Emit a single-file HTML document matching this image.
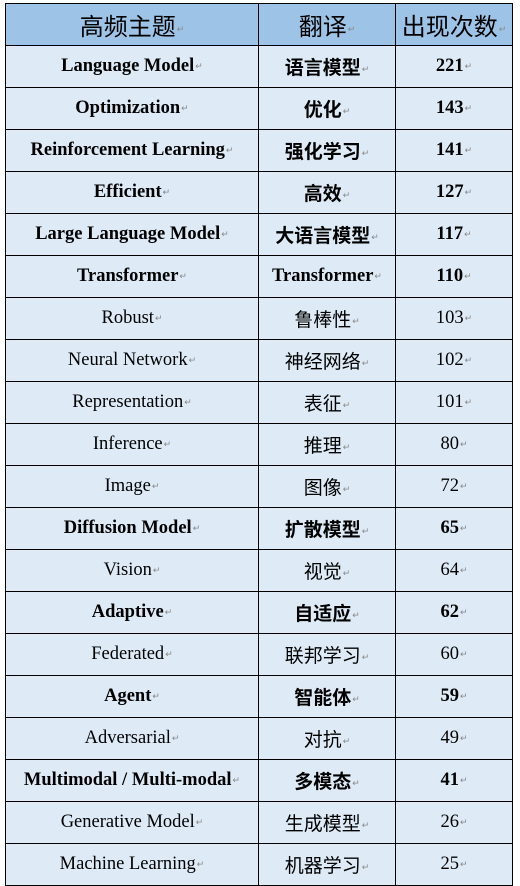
<!DOCTYPE html>
<html><head><meta charset="utf-8"><style>
body{margin:0;width:520px;height:875px;overflow:hidden;background:#fff;font-family:"Liberation Serif","Noto Serif CJK SC",serif;}
table{position:absolute;left:5px;top:3px;border-collapse:collapse;table-layout:fixed;}
td{border:1px solid #000;height:41px;padding:0;text-align:center;font-size:18.5px;color:#000;background:#deebf7;white-space:nowrap;}
td.c{font-family:"Noto Sans CJK SC","Liberation Serif",sans-serif;font-size:19px;}
tr.h td{background:#9dc3e6;font-size:24px;height:41px;font-family:"Noto Sans CJK SC",sans-serif;}
tr.b td{font-weight:bold;}
.r{font-size:9px;color:#888;font-weight:normal;margin-left:1px;vertical-align:middle;}
</style></head><body>
<table>
<colgroup><col style="width:253px"><col style="width:137px"><col style="width:117px"></colgroup>
<tr class="h"><td>高频主题<span class="r">↵</span></td><td>翻译<span class="r">↵</span></td><td>出现次数<span class="r">↵</span></td></tr>
<tr class="b"><td>Language Model<span class="r">↵</span></td><td class="c">语言模型<span class="r">↵</span></td><td>221<span class="r">↵</span></td></tr>
<tr class="b"><td>Optimization<span class="r">↵</span></td><td class="c">优化<span class="r">↵</span></td><td>143<span class="r">↵</span></td></tr>
<tr class="b"><td>Reinforcement Learning<span class="r">↵</span></td><td class="c">强化学习<span class="r">↵</span></td><td>141<span class="r">↵</span></td></tr>
<tr class="b"><td>Efficient<span class="r">↵</span></td><td class="c">高效<span class="r">↵</span></td><td>127<span class="r">↵</span></td></tr>
<tr class="b"><td>Large Language Model<span class="r">↵</span></td><td class="c">大语言模型<span class="r">↵</span></td><td>117<span class="r">↵</span></td></tr>
<tr class="b"><td>Transformer<span class="r">↵</span></td><td>Transformer<span class="r">↵</span></td><td>110<span class="r">↵</span></td></tr>
<tr><td>Robust<span class="r">↵</span></td><td class="c">鲁棒性<span class="r">↵</span></td><td>103<span class="r">↵</span></td></tr>
<tr><td>Neural Network<span class="r">↵</span></td><td class="c">神经网络<span class="r">↵</span></td><td>102<span class="r">↵</span></td></tr>
<tr><td>Representation<span class="r">↵</span></td><td class="c">表征<span class="r">↵</span></td><td>101<span class="r">↵</span></td></tr>
<tr><td>Inference<span class="r">↵</span></td><td class="c">推理<span class="r">↵</span></td><td>80<span class="r">↵</span></td></tr>
<tr><td>Image<span class="r">↵</span></td><td class="c">图像<span class="r">↵</span></td><td>72<span class="r">↵</span></td></tr>
<tr class="b"><td>Diffusion Model<span class="r">↵</span></td><td class="c">扩散模型<span class="r">↵</span></td><td>65<span class="r">↵</span></td></tr>
<tr><td>Vision<span class="r">↵</span></td><td class="c">视觉<span class="r">↵</span></td><td>64<span class="r">↵</span></td></tr>
<tr class="b"><td>Adaptive<span class="r">↵</span></td><td class="c">自适应<span class="r">↵</span></td><td>62<span class="r">↵</span></td></tr>
<tr><td>Federated<span class="r">↵</span></td><td class="c">联邦学习<span class="r">↵</span></td><td>60<span class="r">↵</span></td></tr>
<tr class="b"><td>Agent<span class="r">↵</span></td><td class="c">智能体<span class="r">↵</span></td><td>59<span class="r">↵</span></td></tr>
<tr><td>Adversarial<span class="r">↵</span></td><td class="c">对抗<span class="r">↵</span></td><td>49<span class="r">↵</span></td></tr>
<tr class="b"><td>Multimodal / Multi-modal<span class="r">↵</span></td><td class="c">多模态<span class="r">↵</span></td><td>41<span class="r">↵</span></td></tr>
<tr><td>Generative Model<span class="r">↵</span></td><td class="c">生成模型<span class="r">↵</span></td><td>26<span class="r">↵</span></td></tr>
<tr><td>Machine Learning<span class="r">↵</span></td><td class="c">机器学习<span class="r">↵</span></td><td>25<span class="r">↵</span></td></tr>
</table>
</body></html>
